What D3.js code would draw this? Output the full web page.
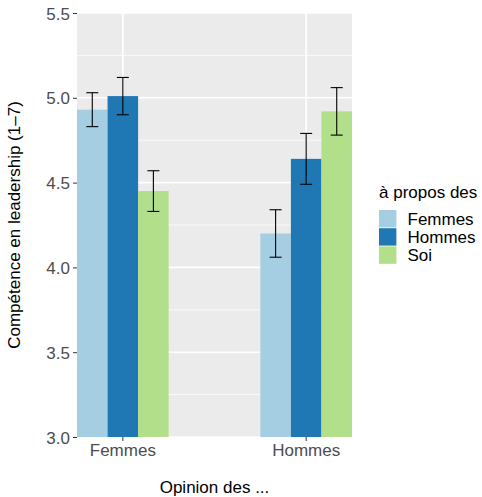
<!DOCTYPE html>
<html>
<head>
<meta charset="utf-8">
<script src="https://cdn.jsdelivr.net/npm/d3@7"></script>
<style>
  body { margin: 0; background: #fff; }
  text { font-family: "Liberation Sans", Arial, sans-serif; }
</style>
</head>
<body>
<svg id="chart" width="482" height="497"></svg>
<script>
// data
var groups = ["Femmes", "Hommes"];          // Opinion des ...
var targets = ["Femmes", "Hommes", "Soi"];  // à propos des
var means = [
  [4.93, 5.01, 4.45],
  [4.20, 4.64, 4.92]
];
var lower = [
  [4.83, 4.90, 4.33],
  [4.06, 4.49, 4.78]
];
var upper = [
  [5.03, 5.12, 4.57],
  [4.34, 4.79, 5.06]
];
var yTicks = [3.0, 3.5, 4.0, 4.5, 5.0, 5.5];
var yMinor = [3.25, 3.75, 4.25, 4.75, 5.25];
var colors = ["#A6CEE3", "#1F78B4", "#B2DF8A"];

var fs = "17px";
var svg = d3.select("#chart");
var margin = {left: 77, top: 13, right: 130, bottom: 60};
var W = 482, H = 497;
var pw = W - margin.left - margin.right, ph = H - margin.top - margin.bottom;

var g = svg.append("g").attr("transform", "translate(" + margin.left + "," + margin.top + ")");

// scales (dodge width 0.5 of a unit, no expansion)
var y = d3.scaleLinear().domain([3, 5.5]).range([ph, 0]);
var xc = d3.scaleLinear().domain([0.75, 2.25]).range([0, pw]);
var xs = d3.scaleBand().domain(targets).range([-0.25, 0.25]);

// panel
g.append("rect").attr("width", pw).attr("height", ph).attr("fill", "#EBEBEB");

g.selectAll(".minor").data(yMinor).enter().append("line")
  .attr("x1", 0).attr("x2", pw)
  .attr("y1", function(d) { return y(d); }).attr("y2", function(d) { return y(d); })
  .attr("stroke", "#fff").attr("stroke-width", 0.8);
g.selectAll(".major").data(yTicks).enter().append("line")
  .attr("x1", 0).attr("x2", pw)
  .attr("y1", function(d) { return y(d); }).attr("y2", function(d) { return y(d); })
  .attr("stroke", "#fff").attr("stroke-width", 1.6);
g.selectAll(".vmajor").data(groups).enter().append("line")
  .attr("x1", function(d, i) { return xc(i + 1); }).attr("x2", function(d, i) { return xc(i + 1); })
  .attr("y1", 0).attr("y2", ph)
  .attr("stroke", "#fff").attr("stroke-width", 1.6);

// bars
groups.forEach(function(gr, i) {
  targets.forEach(function(t, j) {
    var x0 = xc(i + 1 + xs(t)), x1 = xc(i + 1 + xs(t) + xs.bandwidth());
    g.append("rect")
      .attr("x", x0).attr("width", x1 - x0)
      .attr("y", y(means[i][j])).attr("height", ph - y(means[i][j]))
      .attr("fill", colors[j]);
  });
});

// error bars
groups.forEach(function(gr, i) {
  targets.forEach(function(t, j) {
    var cx = xc(i + 1 + xs(t) + xs.bandwidth() / 2);
    var hw = 6;
    var eb = g.append("g").attr("stroke", "#000").attr("stroke-width", 1.1);
    eb.append("line").attr("x1", cx).attr("x2", cx).attr("y1", y(lower[i][j])).attr("y2", y(upper[i][j]));
    eb.append("line").attr("x1", cx - hw).attr("x2", cx + hw).attr("y1", y(lower[i][j])).attr("y2", y(lower[i][j]));
    eb.append("line").attr("x1", cx - hw).attr("x2", cx + hw).attr("y1", y(upper[i][j])).attr("y2", y(upper[i][j]));
  });
});

// axes
var yAxis = d3.axisLeft(y).tickValues(yTicks).tickFormat(d3.format(".1f")).tickSize(4).tickPadding(3);
var ya = g.append("g").call(yAxis);
ya.select(".domain").remove();
ya.selectAll("line").attr("stroke", "#333");
ya.selectAll("text").attr("fill", "#4D4D4D").style("font-size", fs).attr("dy", "0.36em");

var xa = g.append("g").attr("transform", "translate(0," + ph + ")");
groups.forEach(function(gr, i) {
  xa.append("line").attr("x1", xc(i + 1)).attr("x2", xc(i + 1)).attr("y1", 0).attr("y2", 4).attr("stroke", "#333");
  xa.append("text").attr("x", xc(i + 1)).attr("y", 18.5).attr("text-anchor", "middle")
    .attr("fill", "#4D4D4D").style("font-size", fs).text(gr);
});

// titles
svg.append("text").attr("x", margin.left + pw / 2).attr("y", 493).attr("text-anchor", "middle")
  .style("font-size", fs).attr("fill", "#000").text("Opinion des ...");
svg.append("text").attr("transform", "translate(20," + (margin.top + ph / 2) + ") rotate(-90)")
  .attr("text-anchor", "middle").style("font-size", fs).attr("fill", "#000")
  .text("Compétence en leadership (1–7)");

// legend
var lg = svg.append("g").attr("transform", "translate(379,198)");
lg.append("text").attr("x", 0).attr("y", 0).style("font-size", fs).attr("fill", "#000").text("à propos des");
targets.forEach(function(t, j) {
  lg.append("rect").attr("x", 0).attr("y", 12 + j * 18.2).attr("width", 17.4).attr("height", 17.4).attr("fill", colors[j]);
  lg.append("text").attr("x", 28.5).attr("y", 12 + j * 18.2 + 8.7).attr("dy", "0.36em")
    .style("font-size", fs).attr("fill", "#000").text(t);
});
</script>
</body>
</html>
